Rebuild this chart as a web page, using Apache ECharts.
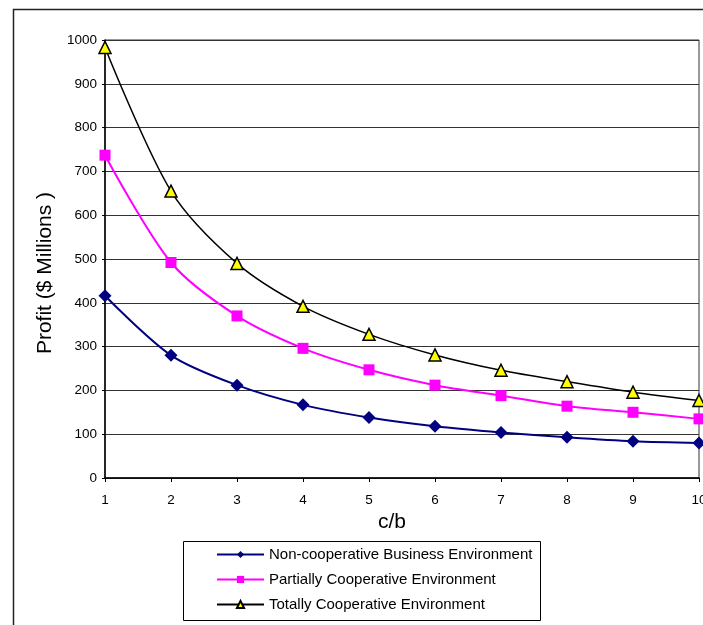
<!DOCTYPE html>
<html>
<head>
<meta charset="utf-8">
<script src="https://cdn.jsdelivr.net/npm/echarts@6/dist/echarts.min.js"></script>
<style>
  html, body { margin: 0; padding: 0; background: #fff; }
  #chart { width: 703px; height: 625px; }
</style>
</head>
<body>
<div id="chart"></div>
<script>
// c/b ratio values along the horizontal axis
const ratios = [1, 2, 3, 4, 5, 6, 7, 8, 9, 10];

// Profit in $ millions for each environment
const nonCooperative = [416, 280, 212, 167, 138, 118, 104, 93, 84, 80];
const partiallyCooperative = [737, 492, 370, 296, 247, 212, 188, 164, 150, 135];
const totallyCooperative = [983, 655, 490, 392, 328, 281, 246, 220, 196, 177];

const seriesNames = [
  'Non-cooperative Business Environment',
  'Partially Cooperative Environment',
  'Totally Cooperative Environment'
];

const FONT = '"Liberation Sans", Arial, sans-serif';

function pairs(values) {
  return ratios.map((r, i) => [r, values[i]]);
}

const chart = echarts.init(document.getElementById('chart'), null, { renderer: 'canvas' });

chart.setOption({
  animation: false,
  backgroundColor: '#fff',
  textStyle: { fontFamily: FONT, color: '#000' },
  graphic: [
    {
      type: 'polyline',
      shape: { points: [[13.5, 640], [13.5, 9.5], [720, 9.5]] },
      style: { stroke: '#222', lineWidth: 1.5, fill: null },
      silent: true
    },
    {
      type: 'rect',
      shape: { x: 183.5, y: 541.5, width: 357, height: 79 },
      style: { stroke: '#000', lineWidth: 1, fill: '#fff' },
      z: -1,
      silent: true
    }
  ],
  grid: {
    left: 105,
    right: 4,
    top: 40,
    bottom: 147,
    outerBoundsMode: 'none',
    containLabel: false,
    show: true,
    borderColor: '#333',
    borderWidth: 1
  },
  xAxis: {
    type: 'value',
    min: 1,
    max: 10,
    interval: 1,
    name: 'c/b',
    nameLocation: 'middle',
    nameGap: 33,
    nameTextStyle: { fontSize: 21, fontFamily: FONT, color: '#000', padding: [0, 20, 0, 0] },
    axisLine: { show: true, lineStyle: { color: '#000', width: 1.5 } },
    axisTick: { show: true, length: 4, lineStyle: { color: '#000' } },
    axisLabel: { fontSize: 13.5, color: '#000', margin: 15, fontFamily: FONT },
    splitLine: { show: false }
  },
  yAxis: {
    type: 'value',
    min: 0,
    max: 1000,
    interval: 100,
    name: 'Profit ($ Millions )',
    nameLocation: 'middle',
    nameGap: 41,
    nameRotate: 90,
    nameTextStyle: { fontSize: 21, fontFamily: FONT, color: '#000', padding: [0, 28, 0, 0] },
    axisLine: { show: true, lineStyle: { color: '#000', width: 1.5 } },
    axisTick: { show: true, length: 3, lineStyle: { color: '#000' } },
    axisLabel: {
      fontSize: 13.5, color: '#000', margin: 8, fontFamily: FONT,
      formatter: (v) => String(v)
    },
    splitLine: { show: true, lineStyle: { color: '#333', width: 1 } }
  },
  legend: {
    orient: 'vertical',
    left: 211,
    top: 541,
    itemWidth: 47,
    itemHeight: 9,
    itemGap: 8,
    textStyle: { fontSize: 15, color: '#000', fontFamily: FONT, lineHeight: 17 },
    data: seriesNames
  },
  series: [
    {
      name: seriesNames[0],
      type: 'line',
      data: pairs(nonCooperative),
      smooth: 0.3,
      symbol: 'diamond',
      symbolSize: 13,
      lineStyle: { color: '#000080', width: 2 },
      itemStyle: { color: '#000080' }
    },
    {
      name: seriesNames[1],
      type: 'line',
      data: pairs(partiallyCooperative),
      smooth: 0.3,
      symbol: 'rect',
      symbolSize: 11,
      lineStyle: { color: '#FF00FF', width: 2 },
      itemStyle: { color: '#FF00FF' }
    },
    {
      name: seriesNames[2],
      type: 'line',
      data: pairs(totallyCooperative),
      smooth: 0.3,
      symbol: 'triangle',
      symbolSize: 12,
      lineStyle: { color: '#000', width: 1.5 },
      itemStyle: { color: '#FFFF00', borderColor: '#000', borderWidth: 1.5 }
    }
  ]
});
</script>
</body>
</html>
